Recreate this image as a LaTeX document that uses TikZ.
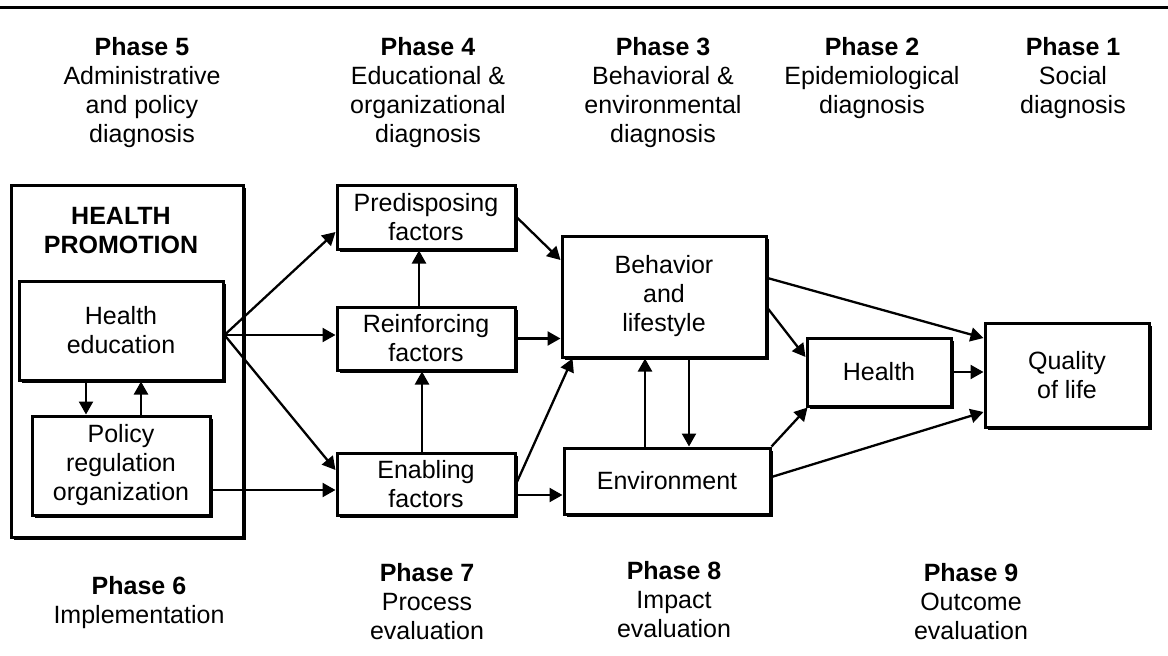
\documentclass[tikz,border=0pt]{standalone}
\usepackage{fontspec}
\setmainfont{Liberation Sans}
\usetikzlibrary{arrows.meta,shadows}
\begin{document}
\begin{tikzpicture}[x=1pt,y=-1pt,
  every node/.append style={font=\fontsize{25}{29}\selectfont},
  box/.style={draw, line width=3pt, fill=white, inner sep=0pt, align=center,
    drop shadow={shadow xshift=3pt, shadow yshift=-3pt, opacity=1, fill=black}},
  arr/.style={line width=2.3pt, -{Triangle[length=13pt,width=14pt]}},
  lbl/.style={align=center, inner sep=0pt, anchor=north}]
\useasboundingbox (0,0) rectangle (1168,656);
\draw[line width=3pt] (0,7) -- (1168,7);

% boxes
\node[box, minimum width=232pt, minimum height=352pt] (hp) at (127,361) {};
\node[align=center, inner sep=0pt, font=\fontsize{25}{29}\selectfont\bfseries] (hpt) at (121,231) {HEALTH\\PROMOTION};
\node[box, minimum width=204pt, minimum height=99pt] (he) at (121,330.5) {Health\\education};
\node[box, minimum width=178pt, minimum height=99pt] (pol) at (121,465.5) {Policy\\regulation\\organization};
\node[box, minimum width=178pt, minimum height=64pt] (pred) at (426,217) {Predisposing\\factors};
\node[box, minimum width=178pt, minimum height=63pt] (reinf) at (426,338.5) {Reinforcing\\factors};
\node[box, minimum width=178pt, minimum height=62pt] (enab) at (426,484) {Enabling\\factors};
\node[box, minimum width=204pt, minimum height=121pt] (beh) at (664,296.5) {Behavior\\and\\lifestyle};
\node[box, minimum width=206pt, minimum height=66pt] (env) at (667,481) {Environment};
\node[box, minimum width=144pt, minimum height=68pt] (health) at (879,372) {Health};
\node[box, minimum width=164pt, minimum height=104pt] (qual) at (1067,375) {Quality\\of life};

% phase labels
\node[lbl] (p5) at (142,37) {\textbf{Phase 5}\\Administrative\\and policy\\diagnosis};
\node[lbl] (p4) at (428,37) {\textbf{Phase 4}\\Educational \&\\organizational\\diagnosis};
\node[lbl] (p3) at (663,37) {\textbf{Phase 3}\\Behavioral \&\\environmental\\diagnosis};
\node[lbl] (p2) at (872,37) {\textbf{Phase 2}\\Epidemiological\\diagnosis};
\node[lbl] (p1) at (1073,37) {\textbf{Phase 1}\\Social\\diagnosis};
\node[lbl] (p6) at (139,576) {\textbf{Phase 6}\\Implementation};
\node[lbl] (p7) at (427,563) {\textbf{Phase 7}\\Process\\evaluation};
\node[lbl] (p8) at (674,561) {\textbf{Phase 8}\\Impact\\evaluation};
\node[lbl] (p9) at (971,563) {\textbf{Phase 9}\\Outcome\\evaluation};

% connectors
\coordinate (hep) at ([yshift=-4.5pt]he.east);
\draw[arr] (hep) -- ([yshift=-15pt]pred.west);
\draw[arr] (hep) -- (hep -| reinf.west);
\draw[arr] (hep) -- ([yshift=14pt]enab.west);
\coordinate (enin) at ([yshift=-6pt]enab.west);
\draw[arr] (pol.east |- enin) -- (enin);
\coordinate (hd) at ([xshift=-35pt]he.south);
\draw[arr] (hd) -- (hd |- pol.north);
\coordinate (hu) at ([xshift=20pt]he.south);
\draw[arr] (hu |- pol.north) -- (hu);
\coordinate (rp) at ([xshift=-7pt]reinf.north);
\draw[arr] (rp) -- (rp |- pred.south);
\coordinate (er) at ([xshift=-4pt]enab.north);
\draw[arr] (er) -- (er |- reinf.south);
\draw[arr] (pred.east) -- ([yshift=36.5pt]beh.west);
\draw[arr] (reinf.east) -- (reinf.east -| beh.west);
\draw[arr] ([yshift=1pt]enab.east) -- ([xshift=12pt]beh.south west);
\coordinate (ee) at ([yshift=-11pt]enab.east);
\draw[arr] (ee) -- (ee -| env.west);
\coordinate (eu) at ([xshift=-22pt]env.north);
\draw[arr] (eu) -- (eu |- beh.south);
\coordinate (ed) at ([xshift=22pt]env.north);
\draw[arr] (ed |- beh.south) -- (ed);
\draw[arr] ([yshift=18.5pt]beh.east) -- ([yshift=37pt]qual.west);
\draw[arr] ([yshift=-11.5pt]beh.east) -- ([yshift=15pt]health.west);
\draw[arr] (health.east) -- (health.east -| qual.west);
\draw[arr] (env.north east) -- ([xshift=2pt]health.south west);
\draw[arr] ([yshift=4pt]env.east) -- ([yshift=-37pt]qual.west);
\end{tikzpicture}
\end{document}
